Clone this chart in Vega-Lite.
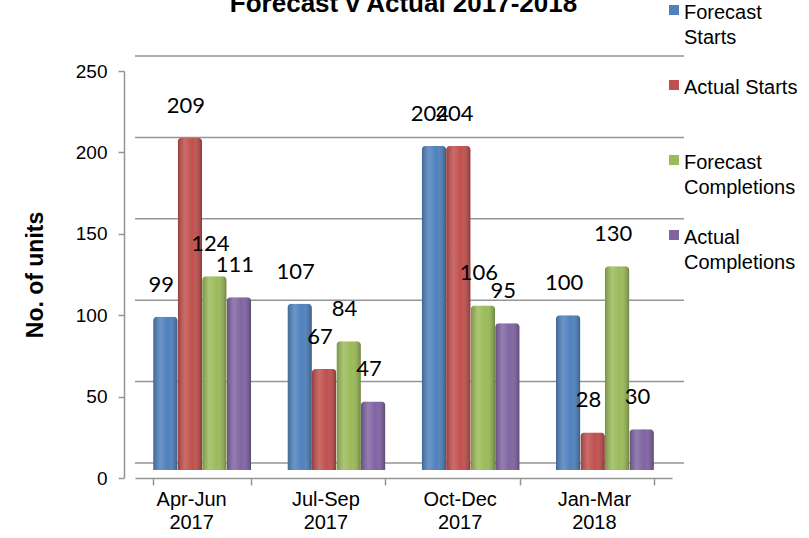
{
  "$schema": "https://vega.github.io/schema/vega-lite/v6.json",
  "width": 537,
  "height": 407,
  "autosize": {"type": "none"},
  "padding": {"left": 135, "top": 71, "right": 137, "bottom": 60},
  "background": "white",
  "title": {
    "text": "Forecast v Actual 2017-2018",
    "font": "Liberation Sans",
    "fontSize": 26,
    "fontWeight": "bold",
    "color": "black",
    "anchor": "middle",
    "frame": "group",
    "baseline": "bottom",
    "offset": -43
  },
  "config": {"view": {"stroke": null}},
  "datasets": {
    "bars": [
      {"period": "Apr-Jun 2017", "series": "Forecast Starts", "value": 99},
      {"period": "Apr-Jun 2017", "series": "Actual Starts", "value": 209},
      {"period": "Apr-Jun 2017", "series": "Forecast Completions", "value": 124},
      {"period": "Apr-Jun 2017", "series": "Actual Completions", "value": 111},
      {"period": "Jul-Sep 2017", "series": "Forecast Starts", "value": 107},
      {"period": "Jul-Sep 2017", "series": "Actual Starts", "value": 67},
      {"period": "Jul-Sep 2017", "series": "Forecast Completions", "value": 84},
      {"period": "Jul-Sep 2017", "series": "Actual Completions", "value": 47},
      {"period": "Oct-Dec 2017", "series": "Forecast Starts", "value": 204},
      {"period": "Oct-Dec 2017", "series": "Actual Starts", "value": 204},
      {"period": "Oct-Dec 2017", "series": "Forecast Completions", "value": 106},
      {"period": "Oct-Dec 2017", "series": "Actual Completions", "value": 95},
      {"period": "Jan-Mar 2018", "series": "Forecast Starts", "value": 100},
      {"period": "Jan-Mar 2018", "series": "Actual Starts", "value": 28},
      {"period": "Jan-Mar 2018", "series": "Forecast Completions", "value": 130},
      {"period": "Jan-Mar 2018", "series": "Actual Completions", "value": 30}
    ],
    "grid": [
      {"value": 0}, {"value": 50}, {"value": 100}, {"value": 150}, {"value": 200}, {"value": 250}
    ]
  },
  "encoding": {
    "y": {
      "field": "value",
      "type": "quantitative",
      "scale": {"domain": [0, 250], "nice": false, "zero": true},
      "axis": {
        "title": "No. of units",
        "titleFont": "Liberation Sans",
        "titleFontSize": 23,
        "titleFontWeight": "bold",
        "titleColor": "black",
        "titlePadding": 28,
        "values": [0, 50, 100, 150, 200, 250],
        "grid": false,
        "offset": 11,
        "labelFont": "Liberation Sans",
        "labelFontSize": 19,
        "labelColor": "black",
        "labelPadding": 11,
        "tickSize": 6,
        "tickColor": "#959595",
        "tickWidth": 1.5,
        "domainColor": "#959595",
        "domainWidth": 1.5
      }
    }
  },
  "layer": [
    {
      "data": {"name": "grid"},
      "mark": {"type": "rule", "color": "#959595", "strokeWidth": 1.5, "xOffset": 12, "x2Offset": 11, "yOffset": -15},
      "encoding": {}
    },
    {
      "data": {"name": "bars"},
      "mark": {"type": "bar", "yOffset": -8, "y2Offset": -8, "cornerRadiusTopLeft": 4, "cornerRadiusTopRight": 4},
      "encoding": {
        "x": {
          "field": "period",
          "type": "nominal",
          "sort": null,
          "scale": {"paddingInner": 0.27, "paddingOuter": 0.135},
          "axis": {
            "title": null,
            "labelExpr": "split(datum.label, ' ')",
            "labelAngle": 0,
            "labelFont": "Liberation Sans",
            "labelFontSize": 20,
            "labelLineHeight": 23,
            "labelColor": "black",
            "labelOffset": -11,
            "labelPadding": 4,
            "tickBand": "extent",
            "tickOffset": -11,
            "tickSize": 7,
            "tickColor": "#959595",
            "tickWidth": 1.5,
            "domainColor": "#959595",
            "domainWidth": 1.5
          }
        },
        "xOffset": {
          "field": "series",
          "type": "nominal",
          "sort": ["Forecast Starts", "Actual Starts", "Forecast Completions", "Actual Completions"],
          "scale": {"paddingInner": 0, "paddingOuter": 0}
        },
        "color": {
          "field": "series",
          "type": "nominal",
          "scale": {
            "domain": ["Forecast Starts", "Actual Starts", "Forecast Completions", "Actual Completions"],
            "range": ["#4F81BD", "#C0504D", "#9BBB59", "#8064A2"]
          },
          "legend": {
            "orient": "none",
            "legendX": 529,
            "legendY": -71,
            "title": null,
            "padding": 0,
            "symbolType": "square",
            "symbolSize": 100,
            "symbolStrokeWidth": 0,
            "labelFont": "Liberation Sans",
            "labelFontSize": 20,
            "labelColor": "black",
            "labelLimit": 200,
            "labelOffset": 0,
            "labelBaseline": "top",
            "rowPadding": 27,
            "labelExpr": "datum.label == 'Actual Starts' ? ['Actual Starts', ''] : split(datum.label, ' ')",
            "encode": {"labels": {"update": {"lineHeight": {"value": 25}, "dy": {"value": -7}}}}
          }
        }
      }
    },
    {
      "data": {"name": "bars"},
      "mark": {
        "type": "bar",
        "yOffset": -8,
        "y2Offset": -8,
        "cornerRadiusTopLeft": 4,
        "cornerRadiusTopRight": 4,
        "fill": {
          "gradient": "linear",
          "x1": 0, "y1": 0, "x2": 1, "y2": 0,
          "stops": [
            {"offset": 0, "color": "rgba(0,0,0,0.22)"},
            {"offset": 0.3, "color": "rgba(255,255,255,0.16)"},
            {"offset": 0.6, "color": "rgba(255,255,255,0)"},
            {"offset": 1, "color": "rgba(0,0,0,0.3)"}
          ]
        }
      },
      "encoding": {
        "x": {"field": "period", "type": "nominal", "sort": null},
        "xOffset": {
          "field": "series",
          "type": "nominal",
          "sort": ["Forecast Starts", "Actual Starts", "Forecast Completions", "Actual Completions"]
        }
      }
    },
    {
      "data": {"name": "bars"},
      "mark": {"type": "text", "font": "Lato", "fontSize": 22, "color": "black", "baseline": "middle", "align": "center", "dy": -32, "dx": -4},
      "encoding": {
        "x": {"field": "period", "type": "nominal", "sort": null},
        "xOffset": {
          "field": "series",
          "type": "nominal",
          "sort": ["Forecast Starts", "Actual Starts", "Forecast Completions", "Actual Completions"]
        },
        "text": {"field": "value", "type": "quantitative"}
      }
    }
  ]
}
